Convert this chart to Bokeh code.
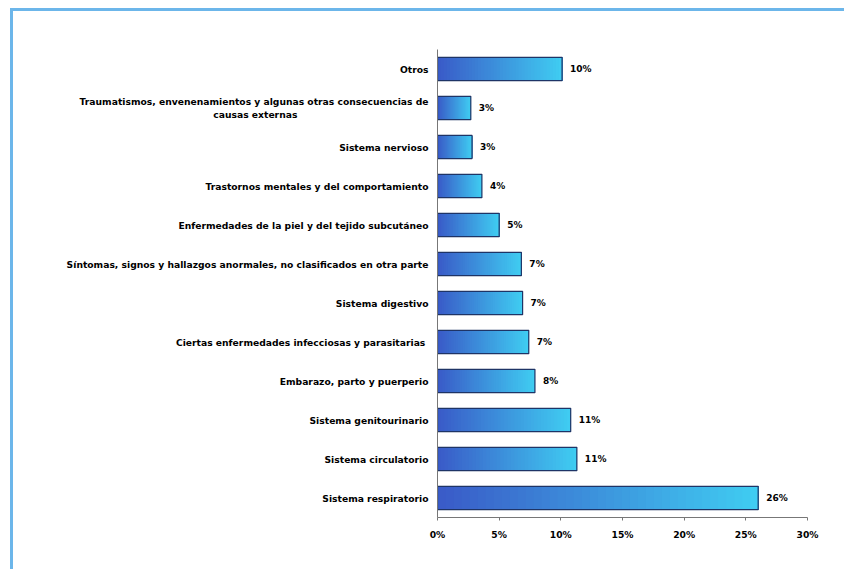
from bokeh.plotting import figure
from bokeh.models import FactorRange, Range1d, PrintfTickFormatter, ColumnDataSource
from bokeh.core.properties import value
from bokeh.embed import file_html
from bokeh.resources import INLINE

wrapped_first = "Traumatismos, envenenamientos y algunas otras consecuencias de"
wrapped_second = "causas externas"
# non-breaking spaces push the right-aligned second line to the centre of the first
PAD = "\u00a0" * 41

categories = [
    "Sistema respiratorio",
    "Sistema circulatorio",
    "Sistema genitourinario",
    "Embarazo, parto y puerperio",
    "Ciertas enfermedades  infecciosas y parasitarias",
    "Sistema digestivo",
    "Síntomas, signos y hallazgos anormales, no clasificados en otra parte",
    "Enfermedades de la piel y del tejido subcutáneo",
    "Trastornos mentales y del comportamiento",
    "Sistema nervioso",
    wrapped_first + "\n" + wrapped_second + PAD,
    "Otros",
]
values = [26.0, 11.3, 10.8, 7.9, 7.4, 6.9, 6.8, 5.0, 3.6, 2.8, 2.7, 10.1]
value_labels = ["26%", "11%", "11%", "8%", "7%", "7%", "7%", "5%", "4%", "3%", "3%", "10%"]
x_ticks = [0, 5, 10, 15, 20, 25, 30]

FONT = "DejaVu Sans"

p = figure(
    width=834, height=561,
    y_range=FactorRange(*categories, range_padding=0),
    x_range=Range1d(0, 30),
    output_backend="svg", toolbar_location=None,
    min_border_left=424, min_border_right=40, min_border_top=38, min_border_bottom=55,
)
p.styles = {"border-top": "3px solid #6cb6ea", "border-left": "3px solid #6cb6ea",
            "margin-left": "10px", "margin-top": "8px"}
p.outline_line_color = None
p.xgrid.grid_line_color = None
p.ygrid.grid_line_color = None
p.background_fill_color = "white"
p.border_fill_color = "white"

# gradient bars built from overlapping slices (each from its start to the bar end)
N = 40
c0 = (58, 92, 200)
c1 = (64, 204, 242)
ys, lefts, rights, cols = [], [], [], []
for i in range(N):
    t = i / (N - 1)
    col = "#%02x%02x%02x" % tuple(int(a + (b - a) * t) for a, b in zip(c0, c1))
    for cat, v in zip(categories, values):
        ys.append(cat)
        lefts.append(v * i / N)
        rights.append(v)
        cols.append(col)
p.hbar(y=ys, left=lefts, right=rights, height=0.6, fill_color=cols, line_color=None)
src = ColumnDataSource(dict(y=categories, v=values, lab=value_labels))
p.hbar(y="y", left=0, right="v", height=0.6, source=src, fill_alpha=0,
       line_color="#1e3466", line_width=1.2)
p.text(x="v", y="y", text="lab", source=src, x_offset=8, text_baseline="middle",
       text_font=value(FONT), text_font_style="bold", text_font_size="9px", text_color="black")

p.xaxis.ticker = x_ticks
p.xaxis.formatter = PrintfTickFormatter(format="%d%%")
for ax in (p.xaxis, p.yaxis):
    ax.axis_line_color = "#777777"
    ax.major_label_text_font = FONT
    ax.major_label_text_font_style = "bold"
    ax.major_label_text_font_size = "9.2px"
    ax.major_label_text_color = "black"
    ax.minor_tick_line_color = None
p.xaxis.major_tick_line_color = "#777777"
p.xaxis.major_tick_out = 3
p.xaxis.major_tick_in = 0
p.xaxis.major_label_standoff = 8
p.yaxis.major_tick_line_color = None
p.yaxis.major_tick_out = 0
p.yaxis.major_tick_in = 0
p.yaxis.major_label_standoff = 9

open("out.html", "w").write(file_html(p, INLINE))
